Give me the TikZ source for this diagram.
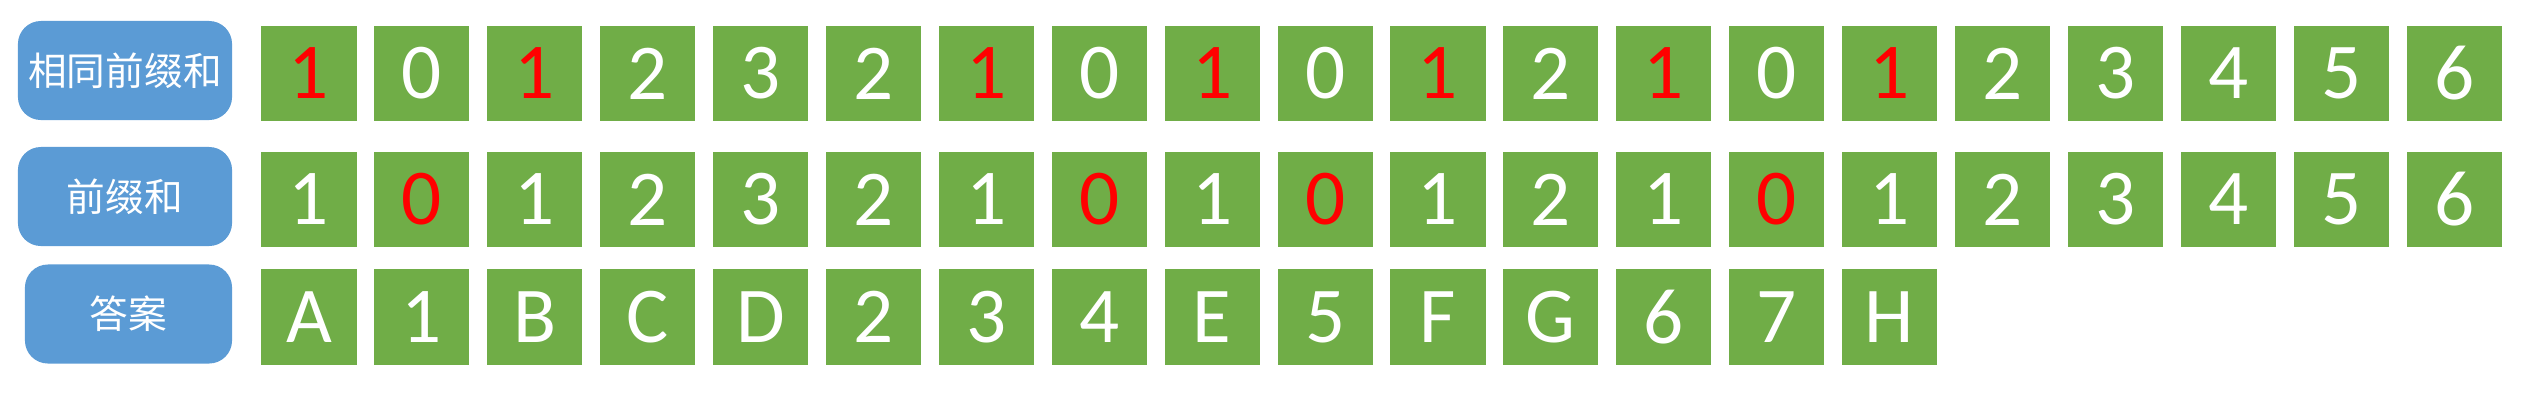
\documentclass[tikz,border=0pt]{standalone}
\usepackage{fontspec}
\setmainfont{Carlito}
\newfontfamily\cjk{Noto Sans CJK SC}
\definecolor{labelblue}{HTML}{5B9BD5}
\definecolor{cellgreen}{HTML}{70AD47}

\begin{document}
\begin{tikzpicture}[x=0.01cm,y=-0.01cm]
\tikzstyle{rowlabel} = [rectangle, rounded corners=0.23cm, fill=labelblue, text=white, minimum height=0.99cm, inner sep=0pt, font=\cjk\fontsize{11}{13}\selectfont] % row title style
\tikzstyle{cell} = [rectangle, fill=cellgreen, text=white, minimum size=0.95cm, inner sep=0pt, font=\fontsize{22.5}{26}\selectfont] % green square
\useasboundingbox (0,0) rectangle (2521,405);

% row titles
\node[rowlabel, minimum width=2.14cm] (same) at (125,70.5) {相同前缀和};
\node[rowlabel, minimum width=2.14cm] (pre) at (125,196.5) {前缀和};
\node[rowlabel, minimum width=2.07cm] (ans) at (128.5,314) {答案};

% same prefix sums
\foreach \v/\c [count=\i] in {1/red,0/white,1/red,2/white,3/white,2/white,1/red,0/white,1/red,0/white,
	1/red,2/white,1/red,0/white,1/red,2/white,3/white,4/white,5/white,6/white}
	\node[cell, text=\c] (s\i) at ({309+112.9*(\i-1)},73.5) {\v};
% prefix sums
\foreach \v/\c [count=\i] in {1/white,0/red,1/white,2/white,3/white,2/white,1/white,0/red,1/white,0/red,
	1/white,2/white,1/white,0/red,1/white,2/white,3/white,4/white,5/white,6/white}
	\node[cell, text=\c] (p\i) at ({309+112.9*(\i-1)},199.5) {\v};
% answer
\foreach \v [count=\i] in {A,1,B,C,D,2,3,4,E,5,F,G,6,7,H}
	\node[cell] (a\i) at ({309+112.9*(\i-1)},317) {\v};
\end{tikzpicture}
\end{document}
